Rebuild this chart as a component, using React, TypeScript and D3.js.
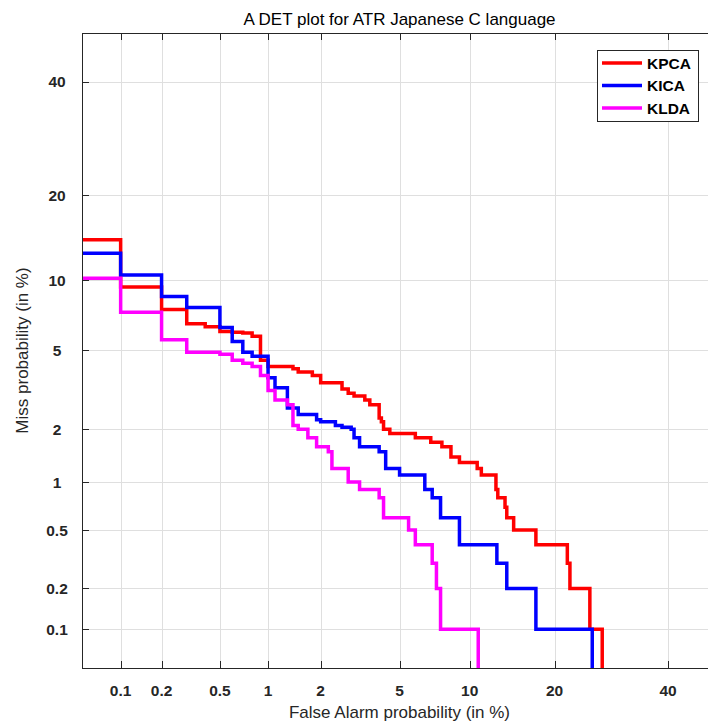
import * as d3 from "d3";
import React, { useRef, useEffect } from "react";

// DET curves, values in percent: [false alarm, miss] at the start of each step
const kpca: [number, number][] = [
  [0.03, 14.2], [0.1, 9.4], [0.2, 7.6], [0.3, 6.6], [0.4, 6.4], [0.5, 6.1], [0.6, 6.05],
  [0.7, 6.0], [0.8, 5.8], [0.9, 4.5], [1.0, 4.2], [1.4, 4.1], [1.5, 3.95], [1.8, 3.8],
  [2.0, 3.5], [2.6, 3.25], [2.8, 3.1], [3.0, 3.0], [3.4, 2.86], [3.6, 2.7], [4.0, 2.3],
  [4.1, 2.2], [4.2, 2.0], [4.5, 1.9], [5.9, 1.8], [6.9, 1.7], [7.7, 1.6], [8.4, 1.4],
  [9.1, 1.3], [10.7, 1.2], [11.1, 1.1], [12.6, 0.9], [12.8, 0.8], [13.6, 0.7], [13.8, 0.6],
  [14.6, 0.5], [17.4, 0.4], [21.9, 0.3], [22.3, 0.2], [25.5, 0.1], [27.6, 0.01],
];
const kica: [number, number][] = [
  [0.03, 12.7], [0.1, 10.5], [0.2, 8.6], [0.3, 7.75], [0.5, 6.35], [0.6, 5.5], [0.7, 4.9],
  [0.8, 4.7], [1.0, 3.7], [1.1, 3.3], [1.3, 2.6], [1.5, 2.4], [1.9, 2.25], [2.0, 2.2],
  [2.4, 2.1], [2.6, 2.05], [2.9, 2.0], [3.0, 1.8], [3.2, 1.6], [4.0, 1.5], [4.3, 1.2],
  [5.0, 1.1], [6.5, 0.9], [7.0, 0.8], [7.6, 0.6], [9.1, 0.4], [12.7, 0.3], [13.8, 0.2],
  [17.4, 0.1], [25.9, 0.01],
];
const klda: [number, number][] = [
  [0.03, 10.2], [0.1, 7.4], [0.2, 5.6], [0.3, 4.9], [0.5, 4.8], [0.6, 4.5], [0.7, 4.35],
  [0.8, 4.2], [0.9, 3.8], [1.0, 3.2], [1.1, 2.86], [1.3, 2.7], [1.4, 2.1], [1.5, 2.0],
  [1.7, 1.8], [1.9, 1.6], [2.2, 1.5], [2.3, 1.2], [2.8, 1.0], [3.2, 0.9], [4.0, 0.8],
  [4.2, 0.6], [5.5, 0.5], [5.9, 0.4], [7.0, 0.3], [7.3, 0.2], [7.6, 0.1], [10.8, 0.01],
];

const seriesNames = ["KPCA", "KICA", "KLDA"];
const seriesColors = ["#ff0000", "#0000ff", "#ff00ff"];
const tickValues = [0.1, 0.2, 0.5, 1, 2, 5, 10, 20, 40];
const axisLimits = [0.05, 50];

// inverse normal cdf (Acklam)
function probit(p: number) {
  const a = [-39.69683028665376, 220.9460984245205, -275.9285104469687, 138.357751867269, -30.66479806614716, 2.506628277459239];
  const b = [-54.47609879822406, 161.5858368580409, -155.6989798598866, 66.80131188771972, -13.28068155288572];
  const c = [-0.007784894002430293, -0.3223964580411365, -2.400758277161838, -2.549732539343734, 4.374664141464968, 2.938163982698783];
  const d = [0.007784695709041462, 0.3224671290700398, 2.445134137142996, 3.754408661907416];
  const plow = 0.02425;
  if (p < plow) {
    const q = Math.sqrt(-2 * Math.log(p));
    return (((((c[0] * q + c[1]) * q + c[2]) * q + c[3]) * q + c[4]) * q + c[5]) /
      ((((d[0] * q + d[1]) * q + d[2]) * q + d[3]) * q + 1);
  }
  if (p <= 1 - plow) {
    const q = p - 0.5;
    const r = q * q;
    return ((((((a[0] * r + a[1]) * r + a[2]) * r + a[3]) * r + a[4]) * r + a[5]) * q) /
      (((((b[0] * r + b[1]) * r + b[2]) * r + b[3]) * r + b[4]) * r + 1);
  }
  const q = Math.sqrt(-2 * Math.log(1 - p));
  return -(((((c[0] * q + c[1]) * q + c[2]) * q + c[3]) * q + c[4]) * q + c[5]) /
    ((((d[0] * q + d[1]) * q + d[2]) * q + d[3]) * q + 1);
}

const svgWidth = 708;
const svgHeight = 721;
const left = 82, right = 717, top = 33, bottom = 668;
const font = "'Liberation Sans', Arial, Helvetica, sans-serif";
const axisColor = "#262626";

const DetPlot = () => {
  const ref = useRef<SVGSVGElement>(null);

  useEffect(() => {
    const svg = d3.select(ref.current);
    svg.selectAll("*").remove();

    const pr = (v: number) => probit(v / 100);
    const x = d3.scaleLinear().domain(axisLimits.map(pr)).range([left, right]);
    const y = d3.scaleLinear().domain(axisLimits.map(pr)).range([bottom, top]);

    svg.append("rect").attr("x", left).attr("y", top)
      .attr("width", right - left).attr("height", bottom - top).attr("fill", "#fff");

    // grid
    const grid = svg.append("g").attr("stroke", "#dfdfdf").attr("stroke-width", 1);
    tickValues.forEach((t) => {
      const xp = Math.round(x(pr(t))) + 0.5;
      const yp = Math.round(y(pr(t))) + 0.5;
      grid.append("line").attr("x1", xp).attr("x2", xp).attr("y1", top).attr("y2", bottom);
      grid.append("line").attr("x1", left).attr("x2", right).attr("y1", yp).attr("y2", yp);
    });

    svg.append("clipPath").attr("id", "plotClip")
      .append("rect").attr("x", left).attr("y", top)
      .attr("width", right - left).attr("height", bottom - top);

    const line = d3.line<[number, number]>()
      .x((d) => x(pr(d[0])))
      .y((d) => y(pr(d[1])))
      .curve(d3.curveStepAfter);

    [kpca, kica, klda].forEach((s, i) => {
      svg.append("path")
        .attr("d", line(s))
        .attr("clip-path", "url(#plotClip)")
        .attr("fill", "none")
        .attr("stroke", seriesColors[i])
        .attr("stroke-width", 3.5)
        .attr("stroke-linejoin", "miter");
    });

    // box and ticks
    const ax = svg.append("g").attr("stroke", axisColor).attr("stroke-width", 1);
    ax.append("rect").attr("x", left + 0.5).attr("y", top + 0.5)
      .attr("width", right - left).attr("height", bottom - top).attr("fill", "none");
    tickValues.forEach((t) => {
      const xp = Math.round(x(pr(t))) + 0.5;
      const yp = Math.round(y(pr(t))) + 0.5;
      ax.append("line").attr("x1", xp).attr("x2", xp).attr("y1", bottom).attr("y2", bottom - 7);
      ax.append("line").attr("x1", xp).attr("x2", xp).attr("y1", top).attr("y2", top + 7);
      ax.append("line").attr("x1", left).attr("x2", left + 7).attr("y1", yp).attr("y2", yp);
    });

    const labels = svg.append("g").attr("font-family", font).attr("font-weight", "bold")
      .attr("font-size", 15.5).attr("fill", axisColor).attr("text-anchor", "middle");
    tickValues.forEach((t) => {
      labels.append("text").attr("x", x(pr(t))).attr("y", 696).text(String(t));
      labels.append("text").attr("x", 57).attr("y", y(pr(t))).attr("dy", "0.36em").text(String(t));
    });

    svg.append("text").attr("x", (left + right) / 2).attr("y", 25)
      .attr("text-anchor", "middle").attr("font-family", font).attr("font-size", 17)
      .attr("fill", "#000").text("A DET plot for ATR Japanese C language");

    svg.append("text").attr("x", (left + right) / 2).attr("y", 718)
      .attr("text-anchor", "middle").attr("font-family", font).attr("font-size", 17)
      .attr("fill", axisColor).text("False Alarm probability (in %)");

    svg.append("text").attr("transform", `translate(28,${(top + bottom) / 2}) rotate(-90)`)
      .attr("text-anchor", "middle").attr("font-family", font).attr("font-size", 17)
      .attr("fill", axisColor).text("Miss probability (in %)");

    // legend
    const lg = svg.append("g");
    lg.append("rect").attr("x", 597.5).attr("y", 50.5).attr("width", 101).attr("height", 71)
      .attr("fill", "#fff").attr("stroke", axisColor).attr("stroke-width", 1);
    seriesNames.forEach((n, i) => {
      const yy = 63 + i * 22.5;
      lg.append("line").attr("x1", 602).attr("x2", 642).attr("y1", yy).attr("y2", yy)
        .attr("stroke", seriesColors[i]).attr("stroke-width", 3.5);
      lg.append("text").attr("x", 647).attr("y", yy).attr("dy", "0.36em")
        .attr("font-family", font).attr("font-weight", "bold").attr("font-size", 15.5)
        .attr("fill", "#000").text(n);
    });
  }, []);

  return (
    <svg ref={ref} width={svgWidth} height={svgHeight}
      style={{ position: "absolute", left: 0, top: 0, background: "#fff" }} />
  );
};

export default function App() {
  return <DetPlot />;
}
